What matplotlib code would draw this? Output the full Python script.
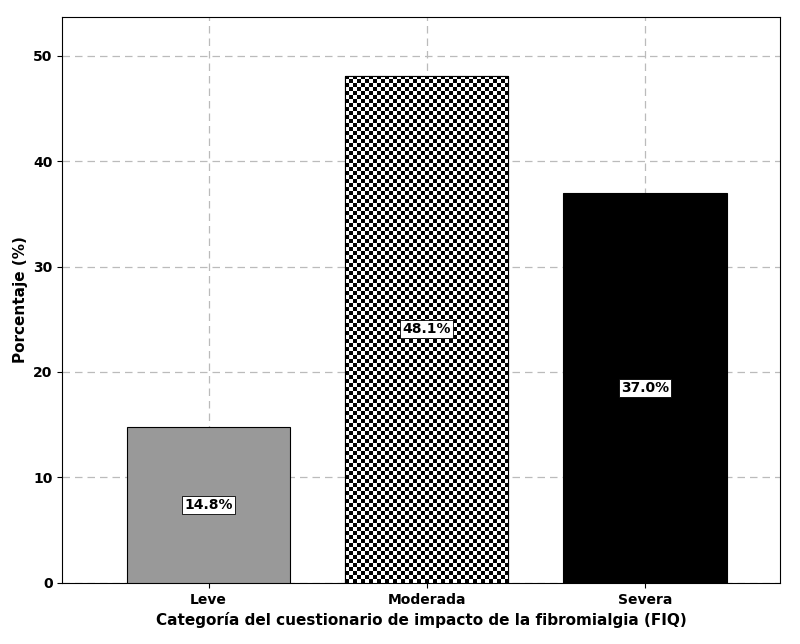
import matplotlib.pyplot as plt
import numpy as np

categories = ["Leve", "Moderada", "Severa"]
values = [14.8, 48.1, 37.0]
labels = ["14.8%", "48.1%", "37.0%"]
colors = ["#999999", "white", "black"]

fig, ax = plt.subplots(figsize=(8, 6.44), dpi=100)
fig.subplots_adjust(left=0.078, right=0.975, top=0.974, bottom=0.095)

x = np.arange(len(categories))
bars = ax.bar(x, values, width=0.75, color=colors, edgecolor="black", linewidth=0.8, zorder=3)

# checkerboard fill for the middle bar
b = bars[1]
nx, ny = 41, 127
checker = (np.indices((ny, nx)).sum(axis=0) % 2).astype(float)
im = ax.imshow(checker, cmap="gray", interpolation="nearest", aspect="auto",
               extent=(b.get_x(), b.get_x() + b.get_width(), 0, b.get_height()), zorder=3.5)
im.set_clip_path(b)
ax.bar([x[1]], [values[1]], width=0.75, fill=False, edgecolor="black", linewidth=0.8, zorder=4)

for xi, v, lab in zip(x, values, labels):
    ax.text(xi, v / 2, lab, ha="center", va="center", fontsize=10, fontweight="bold", zorder=5,
            bbox=dict(facecolor="white", edgecolor="black", linewidth=0.6, pad=1.5))

ax.set_xlim(-0.67, 2.62)
ax.set_ylim(0, 53.7)
ax.set_yticks([0, 10, 20, 30, 40, 50])
ax.set_xticks(x)
ax.set_xticklabels(categories, fontweight="bold", fontsize=10)
for t in ax.get_yticklabels():
    t.set_fontweight("bold")
ax.tick_params(labelsize=10)
ax.grid(True, linestyle=(0, (6, 4)), color="#bbbbbb", linewidth=0.9, zorder=0)
ax.set_axisbelow(True)
ax.set_xlabel("Categoría del cuestionario de impacto de la fibromialgia (FIQ)", fontweight="bold", fontsize=11)
ax.set_ylabel("Porcentaje (%)", fontweight="bold", fontsize=11)

fig.savefig("out.png")
